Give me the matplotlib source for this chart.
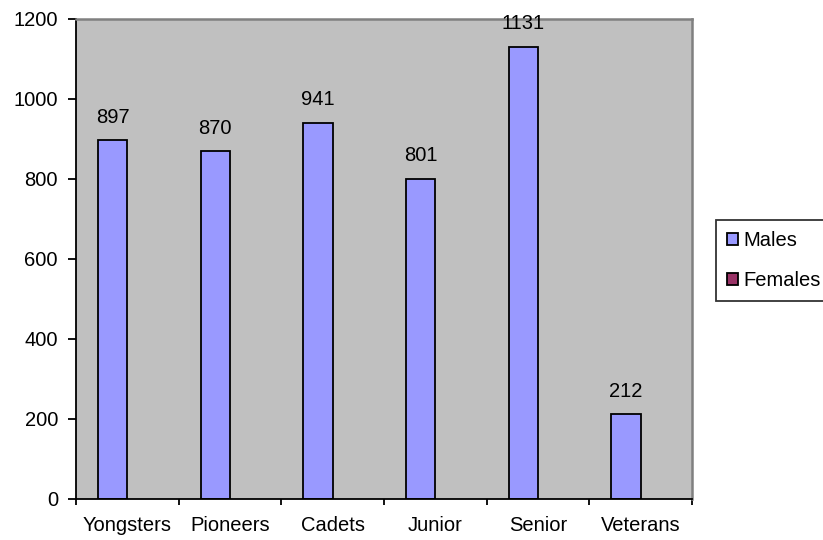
import numpy as np
import matplotlib.pyplot as plt
from matplotlib.patches import Patch

plt.rcParams['font.family'] = ['Liberation Sans', 'DejaVu Sans']

# data
categories = ['Yongsters', 'Pioneers', 'Cadets', 'Junior', 'Senior', 'Veterans']
males = [897, 870, 941, 801, 1131, 212]
females = [np.nan, np.nan, np.nan, np.nan, np.nan, np.nan]
y_ticks = [0, 200, 400, 600, 800, 1000, 1200]

FS = 14.5

fig = plt.figure(figsize=(8.23, 5.4), dpi=100)
ax = fig.add_axes([76 / 823, 41 / 540, (692 - 76) / 823, 480 / 540])
ax.set_facecolor('#C0C0C0')

x = np.arange(len(categories))
w = 1 / 3.5  # excel gap width 150%
ax.bar(x - w / 2, males, w, color='#9999FF', edgecolor='black', linewidth=1.3, label='Males')
fb = ax.bar(x + w / 2, np.nan_to_num(females), w, color='#993366', edgecolor='black', linewidth=1.3, label='Females')
for b in fb:
    b.set_visible(False)

for xi, v in zip(x - w / 2, males):
    ax.annotate(str(v), (xi, v), xytext=(0, 9.5), textcoords='offset points',
                ha='center', va='bottom', fontsize=FS)

ax.set_xlim(-0.5, len(categories) - 0.5)
ax.set_ylim(0, 1200)
ax.set_yticks(y_ticks)
ax.set_xticks(x)
ax.set_xticklabels(categories)
ax.set_xticks(np.arange(len(categories) + 1) - 0.5, minor=True)
ax.tick_params(axis='x', which='major', length=0, labelsize=FS, pad=12)
ax.tick_params(axis='x', which='minor', length=4.5, width=1.3, direction='out')
ax.tick_params(axis='y', length=6, width=1.3, direction='out', labelsize=FS, pad=7)

for s in ['top', 'right']:
    ax.spines[s].set_color('#808080')
    ax.spines[s].set_linewidth(1.8)
for s in ['left', 'bottom']:
    ax.spines[s].set_color('black')
    ax.spines[s].set_linewidth(1.3)

handles = [Patch(facecolor='#9999FF', edgecolor='black', linewidth=1.3),
           Patch(facecolor='#993366', edgecolor='black', linewidth=1.3)]
leg = fig.legend(handles, ['Males', 'Females'], loc='upper left',
                 bbox_to_anchor=(716 / 823, 1 - 220 / 540), frameon=True, fancybox=False,
                 handlelength=0.55, handleheight=0.55, handletextpad=0.25,
                 labelspacing=1.05, borderpad=0.55, borderaxespad=0, fontsize=FS)
leg.get_frame().set_edgecolor('black')
leg.get_frame().set_linewidth(1.3)

fig.savefig('out.png', dpi=100)
